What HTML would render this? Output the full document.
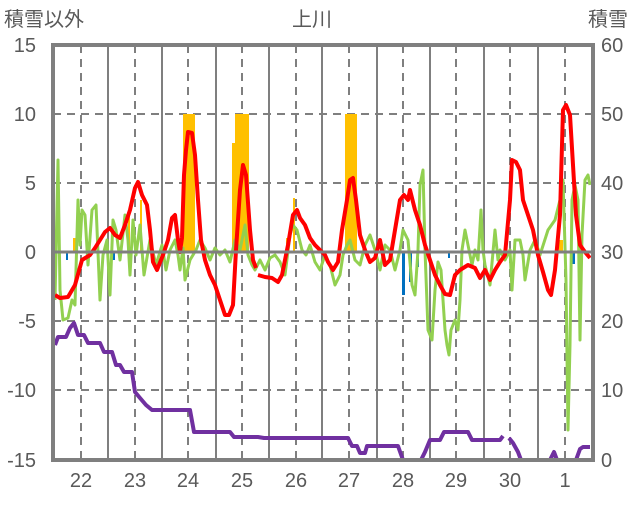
<!DOCTYPE html>
<html><head><meta charset="utf-8"><style>
body{margin:0;background:#fff}
text{font-family:"Liberation Sans","Noto Sans CJK JP",sans-serif;fill:#595959}
</style></head><body>
<svg width="636" height="501" viewBox="0 0 636 501" xmlns="http://www.w3.org/2000/svg">
<rect width="636" height="501" fill="#fff"/>
<g stroke="#7f7f7f" stroke-width="2" stroke-dasharray="8,6">
<line x1="53" y1="114" x2="593" y2="114"/><line x1="53" y1="183" x2="593" y2="183"/>
<line x1="53" y1="321" x2="593" y2="321"/><line x1="53" y1="390" x2="593" y2="390"/>
<line x1="81" y1="45" x2="81" y2="460"/><line x1="135" y1="45" x2="135" y2="460"/>
<line x1="188" y1="45" x2="188" y2="460"/><line x1="242" y1="45" x2="242" y2="460"/>
<line x1="296" y1="45" x2="296" y2="460"/><line x1="349" y1="45" x2="349" y2="460"/>
<line x1="403" y1="45" x2="403" y2="460"/><line x1="456" y1="45" x2="456" y2="460"/>
<line x1="510" y1="45" x2="510" y2="460"/><line x1="565" y1="45" x2="565" y2="460"/>
</g>
<g stroke="#7f7f7f" stroke-width="2">
<line x1="108" y1="45" x2="108" y2="460"/><line x1="162" y1="45" x2="162" y2="460"/>
<line x1="216" y1="45" x2="216" y2="460"/><line x1="269" y1="45" x2="269" y2="460"/>
<line x1="322" y1="45" x2="322" y2="460"/><line x1="377" y1="45" x2="377" y2="460"/>
<line x1="430" y1="45" x2="430" y2="460"/><line x1="484" y1="45" x2="484" y2="460"/>
<line x1="538" y1="45" x2="538" y2="460"/>
</g>
<g fill="#ffc000">
<rect x="183" y="114" width="12" height="138"/><rect x="232" y="143" width="4" height="109"/>
<rect x="235" y="114" width="14" height="138"/><rect x="345" y="114" width="12" height="138"/>
<rect x="73" y="238" width="3" height="14"/><rect x="128" y="212" width="2" height="40"/>
<rect x="140" y="200" width="2" height="52"/><rect x="286" y="238" width="3" height="14"/>
<rect x="293" y="198" width="2" height="54"/><rect x="559" y="240" width="4" height="12"/>
</g>
<g fill="#0070c0">
<rect x="66" y="252" width="2" height="8"/><rect x="112" y="252" width="3" height="8"/>
<rect x="402" y="252" width="3" height="43"/><rect x="409" y="252" width="3" height="30"/>
<rect x="417" y="252" width="2" height="15"/><rect x="448" y="252" width="2" height="6"/>
<rect x="572" y="252" width="3" height="12"/>
</g>
<polyline fill="none" stroke="#7030a0" stroke-width="4" stroke-linejoin="round" points="55,345 58,337 66,337 70,328 74,323 78,335 84,335 88,343 100,343 104,352 112,352 116,365 120,365 124,372 132,372 135,392 140,398 146,405 152,410 190,410 194,432 230,432 234,437 258,437 264,438 348,438 352,446 357,446 360,453 365,453 367,446 398,446 403,460 421,460 425,452 430,440 440,440 444,432 468,432 472,440 500,440 503,436"/>
<polyline fill="none" stroke="#7030a0" stroke-width="4" stroke-linejoin="round" points="509,438 513,443 518,452 521,460 550,460 554,452 557,460 576,460 580,449 583,447 590,447"/>
<polyline fill="none" stroke="#92d050" stroke-width="3" stroke-linejoin="round" points="55,300 58,160 60,290 63,320 68,318 72,300 75,305 78,200 80,245 82,210 85,215 88,265 92,210 96,205 100,300 103,255 107,240 110,295 113,220 116,230 120,260 125,215 128,240 130,275 133,220 136,255 140,225 144,275 150,240 156,265 162,245 166,270 170,250 175,240 178,255 180,270 183,248 185,280 190,260 196,250 200,240 205,248 210,260 215,248 220,255 225,250 230,262 235,240 240,250 245,225 248,255 252,265 255,270 260,260 265,270 270,258 275,255 280,262 285,275 290,235 293,225 297,230 302,250 306,255 310,245 315,262 320,270 325,255 330,265 335,285 340,275 343,255 347,245 350,240 355,260 360,265 365,245 370,235 375,250 380,270 385,245 390,250 395,270 400,250 403,230 408,240 412,285 415,295 418,250 420,185 423,170 425,250 428,330 432,340 435,290 438,262 441,270 445,330 447,345 449,355 451,330 455,320 458,330 460,300 462,250 465,230 468,245 472,265 475,250 478,260 481,210 483,250 485,265 490,285 495,230 498,260 500,250 505,260 510,250 512,290 515,240 520,240 523,255 525,280 530,250 535,240 540,255 548,230 555,220 560,200 563,180 566,280 568,430 570,345 572,200 575,185 578,200 580,340 582,235 585,180 588,175 590,185"/>
<polyline fill="none" stroke="#ff0000" stroke-width="4" stroke-linejoin="round" points="55,295 60,298 68,297 75,285 82,260 90,255 95,248 100,240 105,232 110,228 115,235 120,238 125,225 130,210 135,188 138,182 142,195 147,205 150,230 153,262 157,270 163,255 168,240 172,218 175,215 178,240 180,252 182,238 184,175 186,150 188,132 192,133 195,155 198,200 201,240 205,260 210,275 215,285 220,300 225,315 229,315 233,305 236,250 240,190 243,165 246,175 250,230 253,260 256,268"/>
<polyline fill="none" stroke="#ff0000" stroke-width="4" stroke-linejoin="round" points="258,275 265,277 272,278 278,282 282,275 288,245 293,215 297,210 300,218 305,225 310,238 315,245 320,250 325,255 328,262 333,270 338,262 342,230 347,200 350,180 353,178 356,200 360,235 365,250 370,262 375,258 380,240 385,265 390,260 395,230 400,200 404,195 408,200 410,190 415,210 420,225 425,245 430,260 435,275 440,285 445,294 450,295 455,275 460,270 468,265 475,268 480,278 485,270 490,280 495,270 500,262 505,255 510,200 512,160 516,162 520,170 523,200 528,215 533,230 538,255 543,272 548,290 551,295 555,270 560,215 563,110 566,105 570,115 573,165 576,215 580,245 585,252 590,258"/>
<line x1="53" y1="252" x2="593" y2="252" stroke="#7f7f7f" stroke-width="3"/>
<rect x="53" y="45" width="540" height="415" fill="none" stroke="#7f7f7f" stroke-width="4"/>
<g font-size="20" text-anchor="end">
<text x="36" y="52">15</text><text x="36" y="121">10</text><text x="36" y="190">5</text>
<text x="36" y="259">0</text><text x="36" y="328">-5</text><text x="36" y="397">-10</text><text x="36" y="467">-15</text>
</g>
<g font-size="20" text-anchor="start">
<text x="601" y="52">60</text><text x="601" y="121">50</text><text x="601" y="190">40</text>
<text x="601" y="259">30</text><text x="601" y="328">20</text><text x="601" y="397">10</text><text x="601" y="467">0</text>
</g>
<g font-size="20" text-anchor="middle">
<text x="81" y="487">22</text><text x="135" y="487">23</text><text x="188" y="487">24</text><text x="242" y="487">25</text>
<text x="296" y="487">26</text><text x="349" y="487">27</text><text x="403" y="487">28</text><text x="456" y="487">29</text>
<text x="510" y="487">30</text><text x="565" y="487">1</text>
<text x="312" y="26">上川</text>
</g>
<text x="4" y="26" font-size="20">積雪以外</text>
<text x="588" y="26" font-size="20">積雪</text>
</svg>
</body></html>
